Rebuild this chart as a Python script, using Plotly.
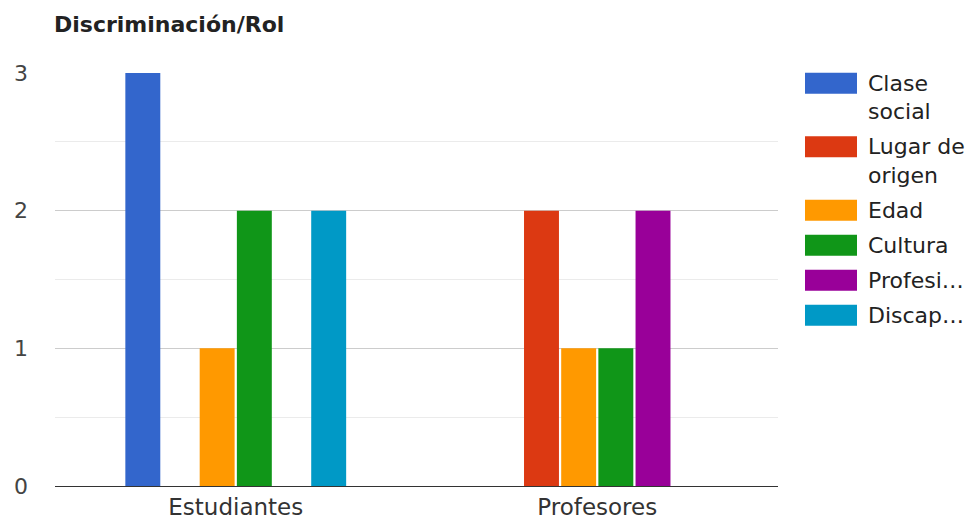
import plotly.graph_objects as go

categories = ["Estudiantes", "Profesores"]
series_names = ["Clase social", "Lugar de origen", "Edad", "Cultura", "Profesi…", "Discap…"]
legend_labels = ["Clase<br>social", "Lugar de<br>origen", "Edad", "Cultura", "Profesi…", "Discap…"]
colors = ["#3366cc", "#dc3912", "#ff9900", "#109618", "#990099", "#0099c6"]

clase_social = [3, 0]
lugar_de_origen = [0, 2]
edad = [1, 1]
cultura = [2, 1]
profesion = [0, 2]
discapacidad = [2, 0]
series_values = [clase_social, lugar_de_origen, edad, cultura, profesion, discapacidad]

y_ticks = [0, 1, 2, 3]

W, H = 976, 521
OFF = 8  # page body margin
L, R, T, B = 55, 778, 73, 486  # plot area in page pixels
FONT = "DejaVu Sans"


def px_x(px):
    return (px - L) / (R - L)


def px_y(py):
    return (B - py) / (B - T)


fig = go.Figure()
for name, vals, col in zip(series_names, series_values, colors):
    fig.add_trace(go.Bar(x=categories, y=vals, name=name, marker=dict(color=col, line=dict(width=0)),
                         showlegend=False))

shapes = []
annotations = []
top = 72.7
line_h = 28.5
for lab, col in zip(legend_labels, colors):
    lines = lab.split("<br>")
    shapes.append(dict(type="rect", xref="paper", yref="paper",
                       x0=px_x(805), x1=px_x(857), y0=px_y(top), y1=px_y(top + 21),
                       fillcolor=col, line=dict(width=0)))
    for i, ln in enumerate(lines):
        annotations.append(dict(xref="paper", yref="paper", x=px_x(866), y=px_y(top + 10.5 + i * line_h),
                                xanchor="left", yanchor="middle", text=ln, showarrow=False,
                                font=dict(family=FONT, size=22, color="#222222")))
    top += len(lines) * line_h + 6.5

annotations.append(dict(xref="paper", yref="paper", x=px_x(52), y=px_y(24), xanchor="left", yanchor="middle",
                        text="<b>Discriminación/Rol</b>", showarrow=False,
                        font=dict(family=FONT, size=22, color="#222222")))

fig.update_layout(
    width=W, height=H,
    margin=dict(l=L - OFF, r=W - (R - OFF), t=T - OFF, b=H - (B - OFF), autoexpand=False),
    paper_bgcolor="white", plot_bgcolor="white",
    barmode="group", bargap=0.383, bargroupgap=0.06,
    font=dict(family=FONT, color="#444444"),
    shapes=shapes, annotations=annotations,
    xaxis=dict(showline=True, linecolor="#333333", linewidth=1, showgrid=False,
               tickfont=dict(family=FONT, size=23, color="#333333"), ticks="", automargin=False),
    yaxis=dict(range=[0, 3], tickvals=y_ticks, showgrid=True, gridcolor="#cccccc", gridwidth=1,
               zeroline=False, ticks="", ticklabelstandoff=26,
               tickfont=dict(family=FONT, size=22, color="#444444"), automargin=False,
               minor=dict(dtick=0.5, showgrid=True, gridcolor="#ebebeb", gridwidth=1)),
)

fig.write_html("out.html")
